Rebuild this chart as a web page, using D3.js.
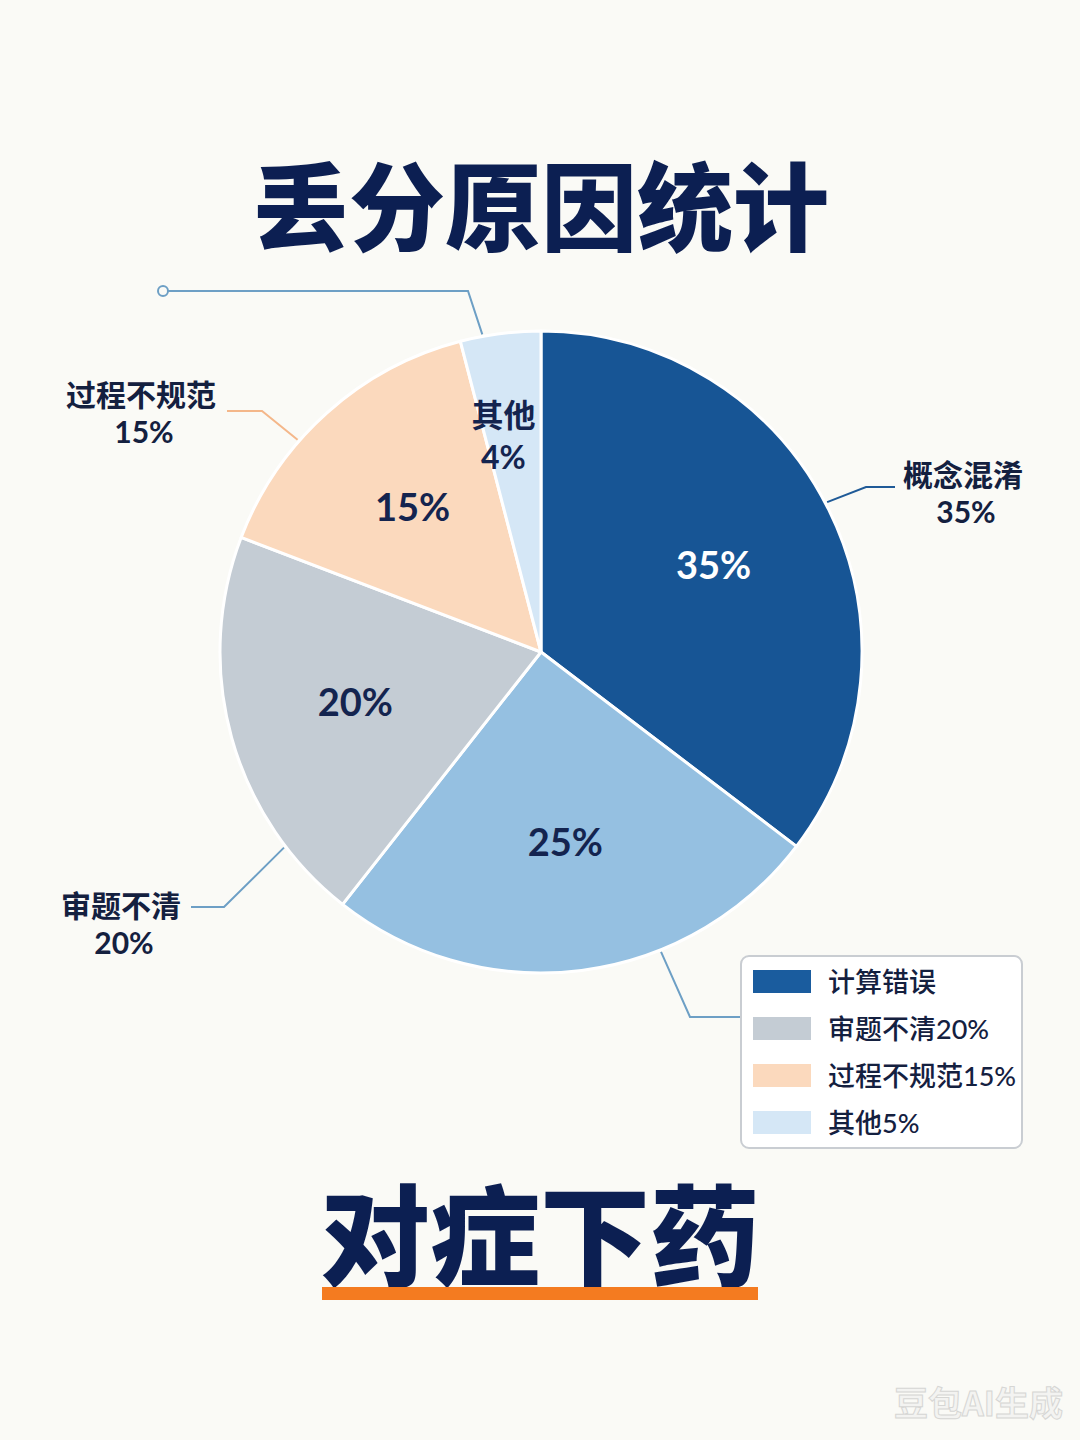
<!DOCTYPE html>
<html>
<head>
<meta charset="utf-8">
<script src="https://cdn.jsdelivr.net/npm/d3@7"></script>
<style>
  html, body { margin: 0; padding: 0; background: #fafaf6; }
  svg { display: block; }
  text { font-family: Lato, "Noto Sans CJK SC", sans-serif; }
</style>
</head>
<body>
<div class="chart"></div>
<script>
// data
var categories = ["概念混淆", "计算错误", "审题不清", "过程不规范", "其他"];
var shares = [35, 25, 20, 15, 4];
var innerLabels = ["35%", "25%", "20%", "15%", "其他\n4%"];
var legendLabels = ["计算错误", "审题不清20%", "过程不规范15%", "其他5%"];
var title = "丢分原因统计";
var slogan = "对症下药";

var colors = ["#1a5c9e", "#95c0e1", "#c4ccd4", "#fbd9bd", "#d5e7f6"];
var legendColors = ["#1a5c9e", "#c4ccd4", "#fbd9bd", "#d5e7f6"];

var W = 1080, H = 1440;
var cx = 541, cy = 652, R = 321;

var svg = d3.select(".chart").append("svg")
  .attr("width", W).attr("height", H);

svg.append("rect").attr("width", W).attr("height", H).attr("fill", "#fafaf6");

var defs = svg.append("defs");
var grad = defs.append("radialGradient").attr("id", "darkGrad")
  .attr("gradientUnits", "userSpaceOnUse")
  .attr("cx", cx).attr("cy", cy).attr("r", R);
grad.append("stop").attr("offset", "0%").attr("stop-color", "#1f66aa");
grad.append("stop").attr("offset", "100%").attr("stop-color", "#175595");

// title
svg.append("text")
  .attr("x", cx).attr("y", 243)
  .attr("text-anchor", "middle")
  .style("font-family", "'Noto Sans CJK SC'")
  .style("font-weight", 900)
  .style("font-size", "96px")
  .attr("fill", "#0c1f52")
  .text(title);

// pie
var pie = d3.pie().sort(null).value(function(d) { return d; });
var arcs = pie(shares);
var arc = d3.arc().innerRadius(0).outerRadius(R);

var g = svg.append("g").attr("transform", `translate(${cx},${cy})`);

g.selectAll("path.slice")
  .data(arcs)
  .enter()
  .append("path")
  .attr("class", "slice")
  .attr("d", arc)
  .attr("fill", function(d, i) { return i === 0 ? "url(#darkGrad)" : colors[i]; })
  .attr("stroke", "#ffffff")
  .attr("stroke-width", 3)
  .attr("stroke-linejoin", "round");

// labels inside slices
var labelArc = d3.arc().innerRadius(R * 0.6).outerRadius(R * 0.6);
var smallArc = d3.arc().innerRadius(R * 0.68).outerRadius(R * 0.68);

arcs.forEach(function(d, i) {
  var small = (d.endAngle - d.startAngle) < 0.4;
  var p = (small ? smallArc : labelArc).centroid(d);
  var lines = innerLabels[i].split("\n");
  var t = g.append("text")
    .attr("text-anchor", "middle")
    .style("font-weight", 700)
    .style("font-size", small ? "32px" : "38px")
    .attr("fill", i === 0 ? "#ffffff" : "#14244f");
  lines.forEach(function(s, k) {
    t.append("tspan")
      .attr("x", p[0] - (small ? 10 : 0))
      .attr("y", p[1] + 13 + (k - (lines.length - 1) / 2) * 42)
      .text(s);
  });
});

// leader lines: t = position along the slice, elbow / end in page coords
var leaders = [
  { i: 0, t: 0.49, elbow: [866, 487], end: [895, 487], color: "#1f5a97" },
  { i: 1, t: 0.34, elbow: [690, 1017], end: [741, 1017], color: "#6d9fc5" },
  { i: 2, t: 0.20, elbow: [224, 907], end: [191, 907], color: "#6d9fc5" },
  { i: 3, t: 0.37, elbow: [262, 411], end: [227, 411], color: "#f4b78a" },
  { i: 4, t: 0.28, elbow: [468, 291], end: [168, 291], color: "#6d9fc5" }
];

leaders.forEach(function(l) {
  var d = arcs[l.i];
  var a = d.startAngle + l.t * (d.endAngle - d.startAngle);
  var r = R + 2;
  var start = [cx + r * Math.sin(a), cy - r * Math.cos(a)];
  svg.append("path")
    .attr("d", d3.line()([start, l.elbow, l.end]))
    .attr("fill", "none")
    .attr("stroke", l.color)
    .attr("stroke-width", 2);
});

svg.append("circle")
  .attr("cx", 163).attr("cy", 291).attr("r", 5)
  .attr("fill", "#fafaf6")
  .attr("stroke", "#6d9fc5")
  .attr("stroke-width", 2);

// outer labels
var outer = [
  { i: 0, x: 963, y: 486, text: ["概念混淆", "35%"] },
  { i: 2, x: 121, y: 917, text: ["审题不清", "20%"] },
  { i: 3, x: 141, y: 406, text: ["过程不规范", "15%"] }
];

outer.forEach(function(o) {
  var t = svg.append("text")
    .attr("text-anchor", "middle")
    .style("font-weight", 700)
    .style("font-size", "30px")
    .attr("fill", "#14203f");
  o.text.forEach(function(s, k) {
    t.append("tspan").attr("x", o.x + (k ? 3 : 0)).attr("y", o.y + k * 37).text(s);
  });
});

// legend
var lg = svg.append("g").attr("transform", "translate(741,956)");
lg.append("rect")
  .attr("width", 281).attr("height", 192)
  .attr("rx", 8)
  .attr("fill", "#ffffff")
  .attr("stroke", "#c9cdd2")
  .attr("stroke-width", 2);

var rows = lg.selectAll("g.row")
  .data(legendLabels)
  .enter()
  .append("g")
  .attr("class", "row")
  .attr("transform", function(d, i) { return `translate(12,${26 + i * 47})`; });

rows.append("rect")
  .attr("x", 0).attr("y", -12)
  .attr("width", 58).attr("height", 23)
  .attr("fill", function(d, i) { return legendColors[i]; });

rows.append("text")
  .attr("x", 75).attr("y", 10)
  .style("font-weight", 500)
  .style("font-size", "27px")
  .attr("fill", "#14203f")
  .text(function(d) { return d; });

// slogan
svg.append("text")
  .attr("x", 540).attr("y", 1278)
  .attr("text-anchor", "middle")
  .style("font-family", "'Noto Sans CJK SC'")
  .style("font-weight", 900)
  .style("font-size", "110px")
  .attr("fill", "#0c1f52")
  .text(slogan);

svg.append("rect")
  .attr("x", 322).attr("y", 1287)
  .attr("width", 436).attr("height", 13)
  .attr("fill", "#f47b20");

// watermark
svg.append("text")
  .attr("x", 1063).attr("y", 1416)
  .attr("text-anchor", "end")
  .style("font-family", "'Noto Sans CJK SC'")
  .style("font-weight", 700)
  .style("font-size", "34px")
  .attr("fill", "#f3f3f1")
  .attr("stroke", "#d6d6d4")
  .attr("stroke-width", 1)
  .text("豆包AI生成");
</script>
</body>
</html>
